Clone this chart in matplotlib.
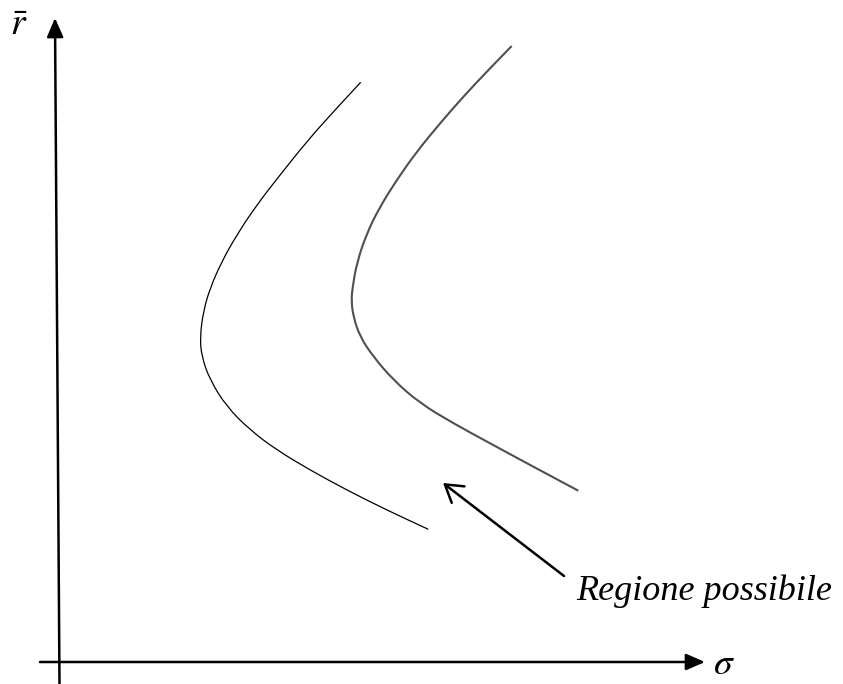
"""Feasible region sketch: two frontier hyperbolas in the (sigma, r-bar) plane."""
import matplotlib
matplotlib.use("Agg")
import matplotlib.pyplot as plt
from matplotlib.path import Path
from matplotlib.patches import PathPatch

# frontier traced in figure pixel space (x right, y down)
inner_x = [360.7, 333.3, 306.7, 280.0, 256.7, 236.7, 221.7, 210.0, 203.3, 200.0,
           201.7, 210.0, 226.7, 250.0, 276.7, 310.0, 346.7, 386.7, 428.3]
inner_y = [82.3, 111.7, 141.7, 175.0, 205.0, 235.0, 261.7, 288.3, 311.7, 337.0,
           356.7, 380.0, 406.7, 430.0, 450.0, 470.0, 490.0, 510.0, 529.3]

outer_x = [511.7, 486.7, 463.3, 440.0, 416.7, 396.7, 380.0, 366.7, 356.7, 352.7,
           351.3, 353.3, 360.0, 373.3, 393.3, 420.0, 453.3, 490.0, 533.3, 578.3]
outer_y = [46.0, 71.7, 96.7, 123.3, 151.7, 180.0, 206.7, 233.3, 263.3, 286.7,
           300.0, 316.7, 336.7, 356.7, 380.0, 403.3, 423.3, 443.3, 466.7, 490.7]

W, H = 843, 684


def smooth_path(xs, ys):
    """Quadratic Bezier chain: traced points act as control points, joined at midpoints."""
    pts = list(zip(xs, ys))
    verts = [pts[0]]
    codes = [Path.MOVETO]
    for i in range(1, len(pts) - 1):
        mid = ((pts[i][0] + pts[i + 1][0]) / 2, (pts[i][1] + pts[i + 1][1]) / 2)
        verts += [pts[i], mid]
        codes += [Path.CURVE3, Path.CURVE3]
    verts.append(pts[-1])
    codes.append(Path.LINETO)
    return Path(verts, codes)


plt.rcParams["mathtext.fontset"] = "stix"
fig = plt.figure(figsize=(W / 100, H / 100), dpi=100)
ax = fig.add_axes([0, 0, 1, 1])
ax.set_xlim(0, W)
ax.set_ylim(H, 0)
ax.axis("off")

# axes drawn as arrows
axis_style = dict(arrowstyle="-|>,head_length=1.15,head_width=0.5", color="black",
                  lw=1.8, mutation_scale=10, shrinkA=0, shrinkB=0)
ax.annotate("", xy=(55, 18), xytext=(59.5, H + 2), arrowprops=axis_style)
ax.annotate("", xy=(705, 662), xytext=(40, 662), arrowprops=axis_style)

ax.add_patch(PathPatch(smooth_path(inner_x, inner_y), fill=False,
                       edgecolor="black", lw=0.9, capstyle="butt"))
ax.add_patch(PathPatch(smooth_path(outer_x, outer_y), fill=False,
                       edgecolor="#505050", lw=1.5, capstyle="butt"))

ax.annotate("", xy=(443, 483), xytext=(564, 576),
            arrowprops=dict(arrowstyle="->,head_length=1.2,head_width=0.75",
                            color="black", lw=1.8, mutation_scale=10,
                            shrinkA=0, shrinkB=0))
ax.text(576, 600, "Regione possibile", fontsize=26, family="Liberation Serif",
        style="italic", ha="left", va="baseline")

ax.text(10, 35, r"$\bar{r}$", fontsize=27, ha="left", va="baseline")
ax.text(713, 674, r"$\sigma$", fontsize=27, ha="left", va="baseline")

fig.savefig("out.png", dpi=100)
